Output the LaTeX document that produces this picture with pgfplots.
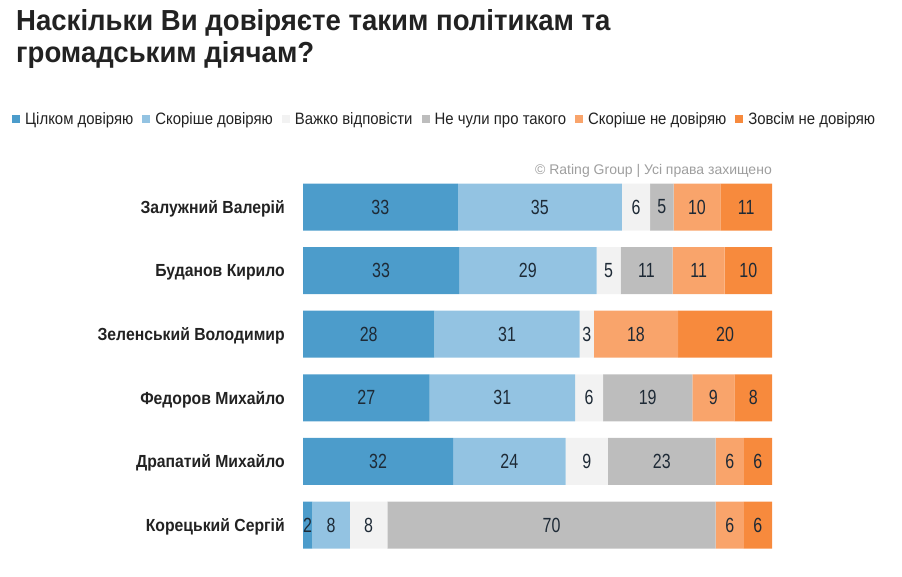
\documentclass[border=0pt]{standalone}
\usepackage{pgfplots}
\pgfplotsset{compat=1.18}
\usepackage{fontspec}
\setmainfont{Liberation Sans}
\newfontfamily\condfont[FakeStretch=0.78]{Liberation Sans}
\newfontfamily\legfont[FakeStretch=0.905]{Liberation Sans}
\newfontfamily\catfont[FakeStretch=0.9]{Liberation Sans}
\newfontfamily\titfont[FakeStretch=0.95]{Liberation Sans}
\definecolor{c1}{HTML}{4C9CCB}
\definecolor{c2}{HTML}{93C3E2}
\definecolor{c3}{HTML}{F2F2F2}
\definecolor{c4}{HTML}{BDBDBD}
\definecolor{c5}{HTML}{F9A46B}
\definecolor{c6}{HTML}{F78A3D}
\definecolor{txt}{HTML}{222222}
\definecolor{num}{HTML}{1E2A36}
\begin{document}
\begin{tikzpicture}
\useasboundingbox (0,0) rectangle (902bp,-577bp);
\node[anchor=base west, inner sep=0pt, text=txt, font=\titfont\bfseries\fontsize{29bp}{32bp}\selectfont] at (16bp,-30bp) {Наскільки Ви довіряєте таким політикам та};
\node[anchor=base west, inner sep=0pt, text=txt, font=\titfont\bfseries\fontsize{29bp}{32bp}\selectfont] at (16bp,-62bp) {громадським діячам?};
\node[anchor=base east, inner sep=0pt, text=black!38, font=\fontsize{14bp}{16bp}\selectfont] at (772bp,-174bp) {© Rating Group | Усі права захищено};
\begin{axis}[
  at={(303bp,-556.8bp)}, anchor=south west,
  scale only axis, width=469bp, height=381.6bp,
  xbar stacked, bar width=47bp,
  xmin=0, xmax=100, ymin=-0.5, ymax=5.5,
  axis line style={draw=none},
  xtick=\empty,
  ytick={0,1,2,3,4,5},
  yticklabels={Корецький Сергій, Драпатий Михайло, Федоров Михайло, Зеленський Володимир, Буданов Кирило, Залужний Валерій},
  major tick length=0pt,
  yticklabel style={font=\catfont\bfseries\fontsize{17.5bp}{20bp}\selectfont, text=txt, anchor=base east, inner sep=0pt, xshift=-18bp, yshift=-6.3bp},
  point meta=explicit symbolic,
  nodes near coords,
  every node near coord/.append style={anchor=center, font=\condfont\fontsize{20.5bp}{22bp}\selectfont, text=num},
  legend columns=6,
  legend style={draw=none, fill=none, at={(-0.6205,1.146)}, anchor=west, inner sep=0pt,
    font=\legfont\fontsize{16.5bp}{18bp}\selectfont, text=txt,
    nodes={inner sep=0pt},
    /tikz/every even column/.append style={column sep=9bp},
    /tikz/every odd column/.append style={column sep=5bp}},
  sq/.style={draw=none, fill=#1, legend image code/.code={\fill[#1] (0bp,-4bp) rectangle (8bp,4bp);}},
]
\addplot[sq=c1] coordinates {(2,0)[2] (32,1)[32] (27,2)[27] (28,3)[28] (33.3,4)[33] (33,5)[33]};
\addplot[sq=c2] coordinates {(8,0)[8] (24,1)[24] (31,2)[31] (31,3)[31] (29.3,4)[29] (35,5)[35]};
\addplot[sq=c3] coordinates {(8,0)[8] (9,1)[9] (6,2)[6] (3,3)[3] (5.1,4)[5] (6,5)[6]};
\addplot[sq=c4] coordinates {(70,0)[70] (23,1)[23] (19,2)[19] (0,3)[{}] (11.1,4)[11] (5,5)[5]};
\addplot[sq=c5] coordinates {(6,0)[6] (6,1)[6] (9,2)[9] (18,3)[18] (11.1,4)[11] (10,5)[10]};
\addplot[sq=c6] coordinates {(6,0)[6] (6,1)[6] (8,2)[8] (20,3)[20] (10.1,4)[10] (11,5)[11]};
\legend{Цілком довіряю, Скоріше довіряю, Важко відповісти, Не чули про такого, Скоріше не довіряю, Зовсім не довіряю}
\end{axis}
\end{tikzpicture}
\end{document}
